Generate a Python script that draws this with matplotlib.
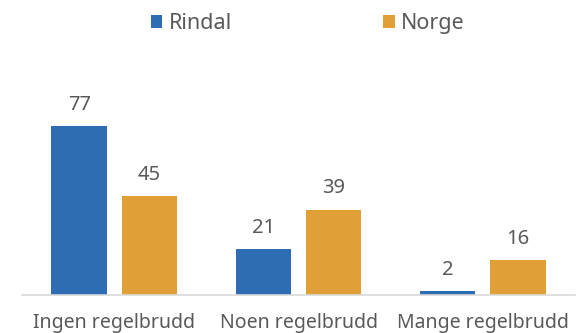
import numpy as np
import matplotlib.pyplot as plt

kategorier = ["Ingen regelbrudd", "Noen regelbrudd", "Mange regelbrudd"]
rindal = [77, 21, 2]
norge = [45, 39, 16]

plt.rcParams['font.family'] = ['Noto Sans', 'DejaVu Sans']
tekstfarge = '#595959'
blaa = '#2E6DB4'
oransje = '#E09F37'

fig = plt.figure(figsize=(5.86, 3.33), dpi=100)
ax = fig.add_axes([22 / 586, 38 / 333, 553 / 586, 219 / 333])

x = np.arange(len(kategorier))
bredde = 0.30
avstand = 0.19

s1 = ax.bar(x - avstand, rindal, bredde, color=blaa, label='Rindal')
s2 = ax.bar(x + avstand, norge, bredde, color=oransje, label='Norge')

for søyler in (s1, s2):
    ax.bar_label(søyler, padding=8, fontsize=14.5, color=tekstfarge)

ax.set_xlim(-0.5, 2.5)
ax.set_ylim(0, 100)
ax.set_xticks(x)
ax.set_xticklabels(kategorier, fontsize=14, color=tekstfarge)
ax.tick_params(axis='x', length=0, pad=13)
ax.set_yticks([])
for side in ('top', 'right', 'left'):
    ax.spines[side].set_visible(False)
ax.spines['bottom'].set_color('#D9D9D9')
ax.spines['bottom'].set_linewidth(1.2)

fig.legend(loc='upper center', bbox_to_anchor=(0.525, 1.018), ncol=2, frameon=False,
           fontsize=15.5, labelcolor=tekstfarge, handlelength=0.55, handleheight=0.55,
           handletextpad=0.3, columnspacing=7.0)

fig.savefig('out.png', dpi=100)
